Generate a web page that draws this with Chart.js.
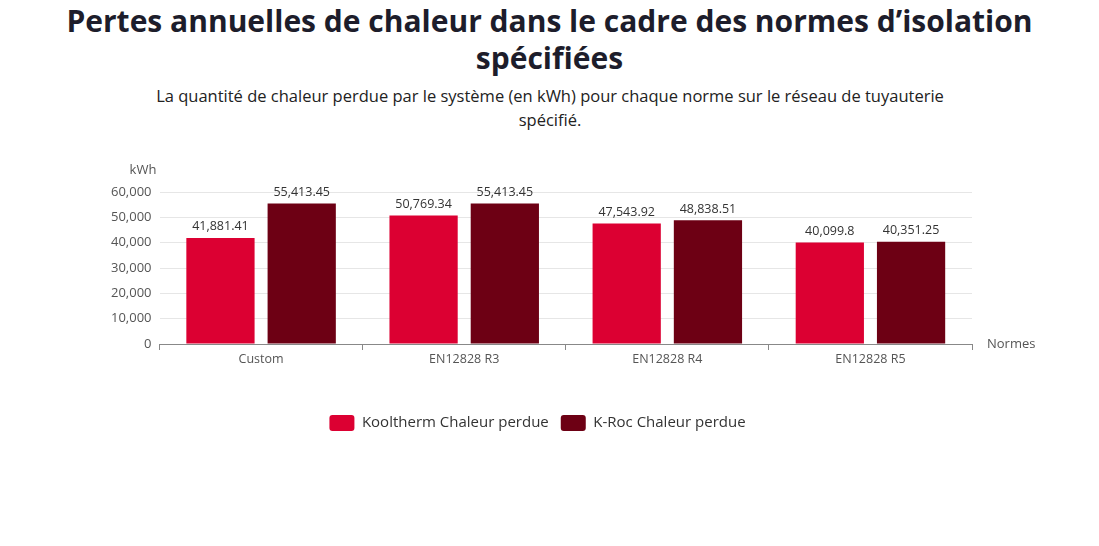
<!DOCTYPE html>
<html><head><meta charset="utf-8">
<script src="https://cdn.jsdelivr.net/npm/chart.js@4/dist/chart.umd.min.js"></script>
<style>
body{margin:0;background:#fff;font-family:"Open Sans",sans-serif;}
h1{margin:0;position:absolute;top:2px;left:0;width:1099px;text-align:center;font:700 30px/37px "Open Sans",sans-serif;color:#1d1d2b;}
p{margin:0;position:absolute;top:84px;left:150px;width:800px;text-align:center;font:16.5px/24px "Open Sans",sans-serif;color:#222;}
#wrap{position:absolute;left:0;top:150px;width:1099px;height:291px;}
</style></head><body>
<h1>Pertes annuelles de chaleur dans le cadre des normes d’isolation<br>spécifiées</h1>
<p>La quantité de chaleur perdue par le système (en kWh) pour chaque norme sur le réseau de tuyauterie spécifié.</p>
<div id="wrap"><canvas id="c"></canvas></div>
<script>
const categories = ["Custom", "EN12828 R3", "EN12828 R4", "EN12828 R5"];
const kooltherm = [41881.41, 50769.34, 47543.92, 40099.8];
const kroc = [55413.45, 55413.45, 48838.51, 40351.25];
const yTicks = [0, 10000, 20000, 30000, 40000, 50000, 60000];

const labelsPlugin = {
  id: 'labels',
  afterDatasetsDraw(chart) {
    const ctx = chart.ctx;
    ctx.save();
    ctx.font = '12.5px "Open Sans", sans-serif';
    ctx.fillStyle = '#333';
    ctx.textAlign = 'center';
    ctx.textBaseline = 'bottom';
    chart.data.datasets.forEach((ds, i) => {
      chart.getDatasetMeta(i).data.forEach((bar, j) => {
        ctx.fillText(ds.data[j].toLocaleString('en-US', {maximumFractionDigits: 2}), bar.x, bar.y - 5);
      });
    });
    const a = chart.chartArea;
    ctx.fillStyle = '#555';
    ctx.font = '13px "Open Sans", sans-serif';
    ctx.textBaseline = 'middle';
    ctx.fillText('kWh', 143, 20);
    ctx.textAlign = 'left';
    ctx.fillText('Normes', a.right + 15, a.bottom);
    ctx.restore();
  }
};

new Chart(document.getElementById('c'), {
  type: 'bar',
  data: {
    labels: categories,
    datasets: [
      {label: 'Kooltherm Chaleur perdue', data: kooltherm, backgroundColor: '#dc0032'},
      {label: 'K-Roc Chaleur perdue', data: kroc, backgroundColor: '#6d0014'}
    ]
  },
  options: {
    responsive: true,
    maintainAspectRatio: false,
    animation: false,
    layout: {padding: {left: 103, right: 127, top: 42, bottom: 0}},
    categoryPercentage: 0.8,
    barPercentage: 0.84,
    plugins: {
      tooltip: {enabled: false},
      legend: {
        position: 'bottom',
        labels: {
          boxWidth: 25, boxHeight: 16, padding: 12,
          color: '#333', font: {size: 15, family: '"Open Sans", sans-serif'},
          useBorderRadius: true, borderRadius: 3
        }
      }
    },
    scales: {
      x: {
        afterFit: s => { s.height += 34; },
        grid: {display: true, drawOnChartArea: false, offset: true, color: '#888', tickLength: 6},
        border: {color: '#888'},
        ticks: {color: '#555', font: {size: 12.5, family: '"Open Sans", sans-serif'}, padding: 2}
      },
      y: {
        min: 0, max: 60000,
        afterBuildTicks: ax => { ax.ticks = yTicks.map(v => ({value: v})); },
        grid: {color: '#e6e6e6', drawTicks: false},
        border: {display: false},
        ticks: {color: '#555', padding: 8, font: {size: 13, family: '"Open Sans", sans-serif'},
          callback: v => v.toLocaleString('en-US')}
      }
    }
  },
  plugins: [labelsPlugin]
});
</script>
</body></html>
